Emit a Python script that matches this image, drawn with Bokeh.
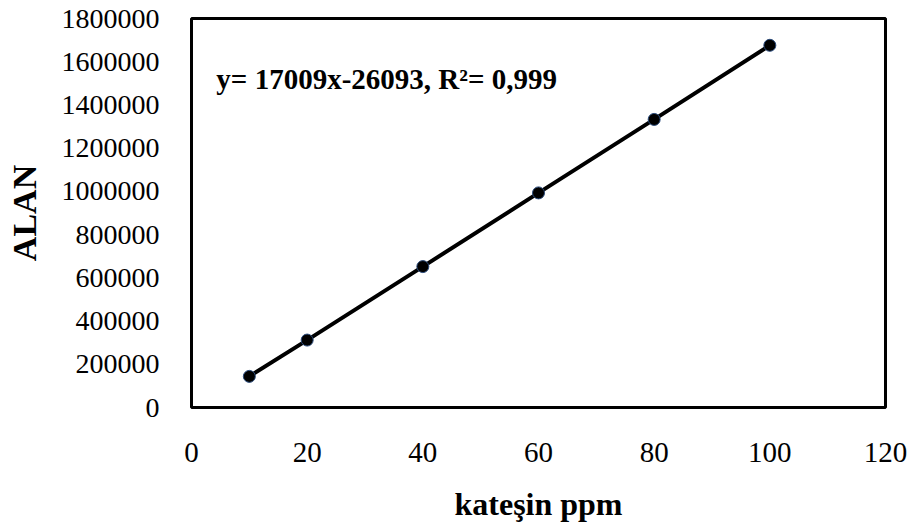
from bokeh.plotting import figure
from bokeh.models import FixedTicker, Range1d, Label
from bokeh.embed import file_html
from bokeh.resources import INLINE

# data
concentration = [10, 20, 40, 60, 80, 100]
area = [144000, 312000, 652000, 993000, 1333000, 1676000]
x_ticks = [0, 20, 40, 60, 80, 100, 120]
y_ticks = [0, 200000, 400000, 600000, 800000, 1000000, 1200000, 1400000, 1600000, 1800000]
equation = "y= 17009x-26093, R\u00b2= 0,999"
x_title = "kateşin ppm"
y_title = "ALAN"

FONT = "Liberation Serif"

p = figure(width=913, height=527, output_backend="svg", toolbar_location=None,
           x_range=Range1d(0, 120), y_range=Range1d(0, 1800000),
           min_border_left=191, min_border_right=28, min_border_top=18, min_border_bottom=120)

p.line(concentration, area, line_color="black", line_width=4)
p.scatter(concentration, area, marker="circle", size=12, fill_color="black",
          line_color="#2a4a7a", line_width=1)

p.xgrid.visible = False
p.ygrid.visible = False
p.outline_line_color = "black"
p.outline_line_width = 3
p.outline_line_alpha = 1

for ax in (p.xaxis[0], p.yaxis[0]):
    ax.major_tick_line_color = None
    ax.minor_tick_line_color = None
    ax.axis_line_color = None
    ax.major_label_text_font = FONT
    ax.major_label_text_color = "black"
    ax.axis_label_text_font = FONT
    ax.axis_label_text_font_style = "bold"
    ax.axis_label_text_color = "black"

p.xaxis.major_label_text_font_size = "29px"
p.yaxis.major_label_text_font_size = "28px"
p.xaxis.axis_label_text_font_size = "32px"
p.yaxis.axis_label_text_font_size = "34px"

p.xaxis.ticker = FixedTicker(ticks=x_ticks)
p.yaxis.ticker = FixedTicker(ticks=y_ticks)
p.xaxis.major_label_overrides = {t: str(t) for t in x_ticks}
p.yaxis.major_label_overrides = {t: str(t) for t in y_ticks}
p.xaxis.major_label_standoff = 29
p.yaxis.major_label_standoff = 26
p.xaxis.axis_label = x_title
p.yaxis.axis_label = y_title
p.xaxis.axis_label_standoff = 21
p.yaxis.axis_label_standoff = 16

p.add_layout(Label(x=4.3, y=1520000, text=equation, text_font=FONT,
                   text_font_style="bold", text_font_size="29px",
                   text_baseline="middle", text_color="black"))

open("out.html", "w").write(file_html(p, INLINE))
